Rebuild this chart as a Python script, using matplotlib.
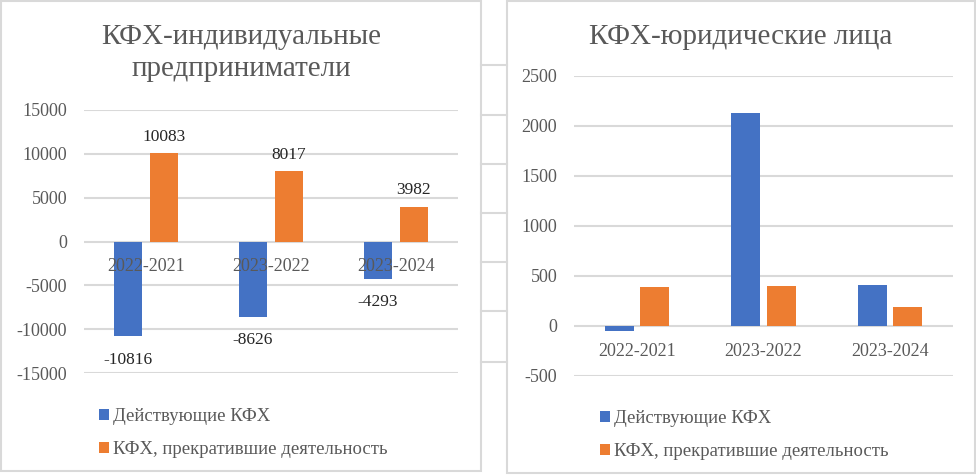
import numpy as np
import matplotlib.pyplot as plt
from matplotlib.patches import Rectangle
from matplotlib.lines import Line2D

plt.rcParams['font.family'] = ['Liberation Serif', 'DejaVu Serif']
plt.rcParams['axes.unicode_minus'] = False

periods = ['2022-2021', '2023-2022', '2023-2024']
series_names = ['Действующие КФХ', 'КФХ, прекратившие деятельность']

ip_active = [-10816, -8626, -4293]
ip_closed = [10083, 8017, 3982]

ul_active = [-50, 2127, 410]
ul_closed = [388, 398, 190]

BLUE = '#4472C4'
ORANGE = '#ED7D31'
GRID = '#D9D9D9'
TEXT = '#595959'

W, H = 976, 475


def px(x, y):
    """pixel coords (top-left origin) -> figure fraction"""
    return x / W, 1 - y / H


def make_axes(fig, x0, x1, ytop, ybot):
    l, t = px(x0, ytop)
    r, b = px(x1, ybot)
    return fig.add_axes([l, b, r - l, t - b])


def style_axes(ax, ylim, step):
    ax.set_xlim(-0.5, 2.5)
    ax.set_ylim(*ylim)
    ticks = np.arange(ylim[0], ylim[1] + 1, step)
    ax.set_yticks(ticks)
    ax.set_xticks(range(len(periods)), periods)
    ax.spines['bottom'].set_position(('data', 0))
    for s in ['top', 'right', 'left', 'bottom']:
        ax.spines[s].set_visible(False)
    # grid behind bars, tick labels stay on top of them
    for t in ticks:
        ax.axhline(t, color=GRID, lw=1.5, zorder=0)
    ax.tick_params(axis='x', length=0, pad=12, labelsize=13, labelcolor=TEXT)
    ax.tick_params(axis='y', length=0, pad=12, labelsize=13, labelcolor=TEXT)


def draw_bars(ax, active, closed, width, off):
    x = np.arange(len(periods))
    b1 = ax.bar(x - off, active, width, color=BLUE, label=series_names[0], zorder=1)
    b2 = ax.bar(x + off, closed, width, color=ORANGE, label=series_names[1], zorder=1)
    return b1, b2


def add_legend(ax, x, y):
    ax.legend(loc='upper left', bbox_to_anchor=px(x, y), bbox_transform=fig.transFigure,
              frameon=False, fontsize=13.5, labelcolor=TEXT, borderpad=0, borderaxespad=0,
              handlelength=0.55, handleheight=0.55, handletextpad=0.2, labelspacing=0.87)


fig = plt.figure(figsize=(W / 100, H / 100), dpi=100)

# panel frames and spreadsheet cell lines between them
for (x0, y0, x1, y1) in [(1, 1, 481, 471), (507, 1, 975, 473)]:
    l, t = px(x0, y0)
    r, b = px(x1, y1)
    fig.add_artist(Rectangle((l, b), r - l, t - b, transform=fig.transFigure,
                             fill=False, edgecolor=GRID, lw=1.5))
for yy in [65, 115, 164, 213, 262, 311, 362]:
    xa, ya = px(481, yy)
    xb, _ = px(507, yy)
    fig.add_artist(Line2D([xa, xb], [ya, ya], transform=fig.transFigure, color=GRID, lw=1.5))

# left chart
ax1 = make_axes(fig, 84, 458, 110, 373)
style_axes(ax1, (-15000, 15000), 5000)
b1, b2 = draw_bars(ax1, ip_active, ip_closed, 0.225, 0.144)
for bars in (b1, b2):
    for rect, v in zip(bars, bars.datavalues):
        ax1.annotate(str(int(v)), (rect.get_x() + rect.get_width() / 2, v),
                     xytext=(0, 6 if v > 0 else -11), textcoords='offset points',
                     ha='center', va='bottom' if v > 0 else 'top', fontsize=12.5, color='#262626')
add_legend(ax1, 99, 408)
fig.text(*px(241, 53), 'КФХ-индивидуальные\nпредприниматели', ha='center', va='center',
         fontsize=21, color=TEXT, linespacing=1.25)

# right chart
ax2 = make_axes(fig, 574, 953, 76, 376)
style_axes(ax2, (-500, 2500), 500)
draw_bars(ax2, ul_active, ul_closed, 0.23, 0.14)
add_legend(ax2, 600, 410)
fig.text(*px(741, 37), 'КФХ-юридические лица', ha='center', va='center',
         fontsize=21, color=TEXT)

fig.savefig('out.png', dpi=100)
